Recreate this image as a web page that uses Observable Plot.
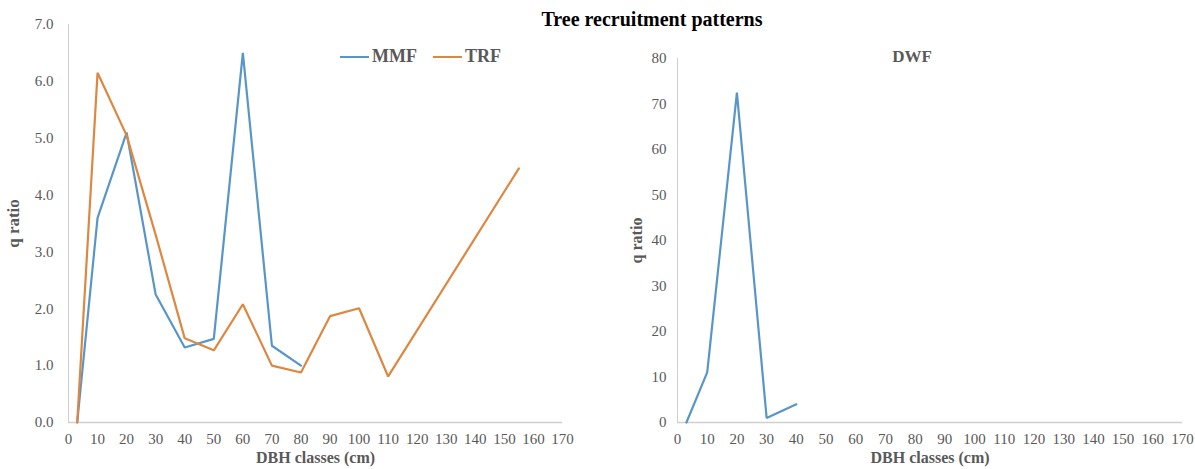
<!DOCTYPE html>
<html>
<head>
<meta charset="utf-8">
<script src="https://cdn.jsdelivr.net/npm/d3@7"></script>
<script src="https://cdn.jsdelivr.net/npm/@observablehq/plot@0.6"></script>
<style>
  html, body { margin: 0; padding: 0; background: #fff; }
  #wrap { position: relative; width: 1195px; height: 469px; overflow: hidden; font-family: "Liberation Serif", serif; }
  #left, #right { position: absolute; top: 0; }
  #left { left: 0; }
  #right { left: 600px; }
  .title { position: absolute; left: 452px; width: 400px; top: 8px; text-align: center; font-weight: bold; font-size: 20px; color: #000; }
  .legend { position: absolute; left: 340px; top: 46px; font-weight: bold; font-size: 18px; color: #595959; display: flex; align-items: center; white-space: nowrap; }
  .legend .sw { display: inline-block; width: 29px; height: 2px; margin-right: 3px; }
  .dwf { position: absolute; left: 880px; width: 64px; top: 47px; text-align: center; font-weight: bold; font-size: 17px; color: #595959; }
</style>
</head>
<body>
<div id="wrap">
  <div id="left"></div>
  <div id="right"></div>
  <div class="title">Tree recruitment patterns</div>
  <div class="legend" id="legend"></div>
  <div class="dwf">DWF</div>
</div>
<script>
// ---- data ----
const dbhMMF = [3, 10, 20, 30, 40, 50, 60, 70, 80];
const qMMF   = [0, 3.6, 5.1, 2.25, 1.32, 1.47, 6.5, 1.35, 1.0];
const dbhTRF = [3, 10, 20, 30, 40, 50, 60, 70, 80, 90, 100, 110, 155];
const qTRF   = [0, 6.15, 5.05, 3.3, 1.48, 1.27, 2.08, 1.0, 0.88, 1.87, 2.01, 0.81, 4.47];
const dbhDWF = [3, 10, 20, 30, 40];
const qDWF   = [0, 11, 72.5, 1, 4];
const xTicks = [0, 10, 20, 30, 40, 50, 60, 70, 80, 90, 100, 110, 120, 130, 140, 150, 160, 170];
const yTicksLeft  = [0, 1, 2, 3, 4, 5, 6, 7];
const yTicksRight = [0, 10, 20, 30, 40, 50, 60, 70, 80];
const seriesNames = ["MMF", "TRF"];
const seriesColors = ["#5896c8", "#dd8740"];

const rows = (xs, ys, s) => xs.map((x, i) => ({dbh: x, q: ys[i], series: s}));
const leftData = [...rows(dbhMMF, qMMF, "MMF"), ...rows(dbhTRF, qTRF, "TRF")];
const rightData = rows(dbhDWF, qDWF, "DWF");

const tickColor = "#595959";
const axisLine = "#d0d0d0";

function axes(yTicks, yFmt, yPad, yLabelOffset) {
  return [
    Plot.ruleY([0], {stroke: axisLine, strokeWidth: 1.5}),
    Plot.ruleX([0], {stroke: axisLine, strokeWidth: 1}),
    Plot.axisX(xTicks, {tickSize: 0, tickPadding: 11, fontSize: 15, fill: tickColor,
      label: "DBH classes (cm)", labelAnchor: "center", labelArrow: "none", labelOffset: 40}),
    Plot.axisY(yTicks, {tickSize: 0, tickPadding: yPad, fontSize: 15, fill: tickColor, tickFormat: yFmt,
      label: "q ratio", labelAnchor: "center", labelArrow: "none", labelOffset: yLabelOffset})
  ];
}

const left = Plot.plot({
  width: 590, height: 469,
  marginLeft: 68, marginRight: 28, marginTop: 24, marginBottom: 47,
  style: {fontFamily: "Liberation Serif, serif", fontSize: "15px", background: "white"},
  x: {domain: [0, 170]},
  y: {domain: [0, 7]},
  color: {domain: seriesNames, range: seriesColors},
  marks: [
    ...axes(yTicksLeft, d3.format(".1f"), 15, 62),
    Plot.line(leftData, {x: "dbh", y: "q", z: "series", stroke: "series", strokeWidth: 2.2, strokeLinejoin: "miter"})
  ]
});
document.getElementById("left").append(left);

const right = Plot.plot({
  width: 595, height: 469,
  marginLeft: 77, marginRight: 13, marginTop: 58, marginBottom: 47,
  style: {fontFamily: "Liberation Serif, serif", fontSize: "15px", background: "white"},
  x: {domain: [0, 170]},
  y: {domain: [0, 80]},
  marks: [
    ...axes(yTicksRight, d3.format("d"), 11, 47),
    Plot.line(rightData, {x: "dbh", y: "q", stroke: seriesColors[0], strokeWidth: 2.2, strokeLinejoin: "miter"})
  ]
});
document.getElementById("right").append(right);

// style axis labels bold
[[left, "17px"], [right, "16px"]].forEach(([svg, ySize]) => {
  svg.querySelectorAll("[aria-label='x-axis label'] text").forEach(t => {
    t.setAttribute("font-weight", "bold");
    t.setAttribute("font-size", "16px");
    t.setAttribute("fill", tickColor);
  });
  svg.querySelectorAll("[aria-label='y-axis label'] text").forEach(t => {
    t.setAttribute("font-weight", "bold");
    t.setAttribute("font-size", ySize);
    t.setAttribute("fill", tickColor);
  });
});

// legend
const lg = document.getElementById("legend");
seriesNames.forEach((name, i) => {
  const sw = document.createElement("span");
  sw.className = "sw";
  sw.style.background = seriesColors[i];
  const tx = document.createElement("span");
  tx.textContent = name;
  tx.style.marginRight = i === 0 ? "16px" : "0";
  lg.append(sw, tx);
});
</script>
</body>
</html>
